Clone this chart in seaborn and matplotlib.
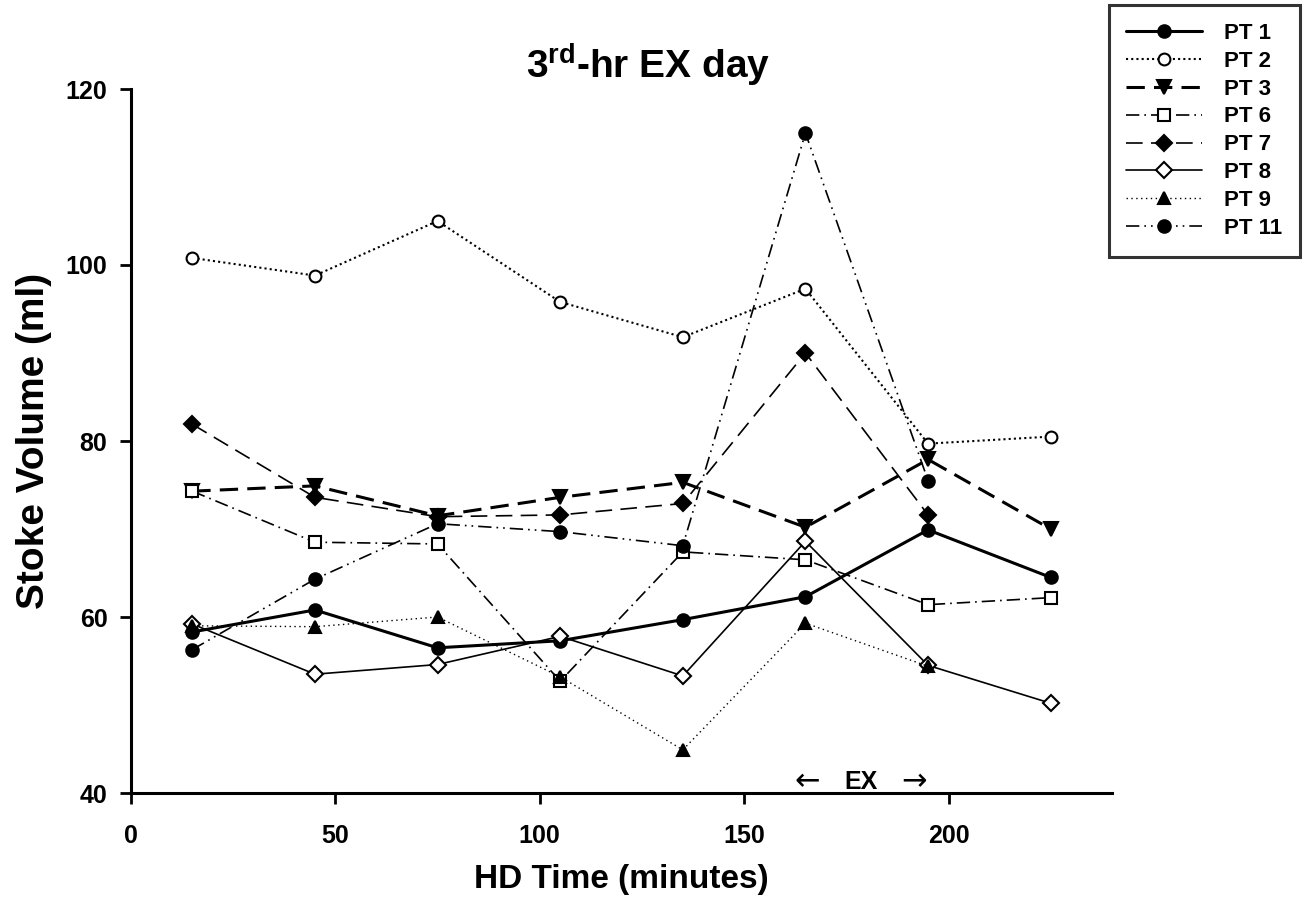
import matplotlib
matplotlib.use("Agg")
import matplotlib.pyplot as plt
import seaborn as sns
import numpy as np

sns.set_theme(style="ticks")
plt.rcParams['font.family'] = ['Liberation Sans', 'DejaVu Sans']
for k in ['text.color', 'axes.labelcolor', 'xtick.color', 'ytick.color', 'axes.edgecolor']:
    plt.rcParams[k] = 'black'

time = [15, 45, 75, 105, 135, 165, 195, 225]
pt1 = [58.3, 60.8, 56.5, 57.3, 59.7, 62.3, 69.9, 64.5]
pt2 = [100.8, 98.8, 105.0, 95.8, 91.8, 97.3, 79.7, 80.5]
pt3 = [74.3, 74.9, 71.5, 73.6, 75.3, 70.2, 77.9, 70.0]
pt6 = [74.3, 68.5, 68.3, 52.7, 67.4, 66.5, 61.4, 62.2]
pt7 = [81.9, 73.6, 71.4, 71.6, 72.9, 90.0, 71.6]
pt8 = [59.2, 53.5, 54.6, 57.8, 53.3, 68.6, 54.5, 50.2]
pt9 = [59.0, 58.9, 60.0, 53.2, 44.9, 59.3, 54.4]
pt11 = [56.3, 64.3, 70.6, 69.7, 68.1, 115.0, 75.5]

series_names = ["PT 1", "PT 2", "PT 3", "PT 6", "PT 7", "PT 8", "PT 9", "PT 11"]
series_vals = [pt1, pt2, pt3, pt6, pt7, pt8, pt9, pt11]

styles = [
    dict(linestyle='-', lw=2.2, marker='o', mfc='black', ms=9),
    dict(linestyle=(0, (1, 1.5)), lw=1.5, marker='o', mfc='white', ms=8.5),
    dict(linestyle=(0, (6, 3)), lw=2.2, marker='v', mfc='black', ms=10),
    dict(linestyle=(0, (8, 3, 1, 3)), lw=1.2, marker='s', mfc='white', ms=8.5),
    dict(linestyle=(0, (10, 5)), lw=1.2, marker='D', mfc='black', ms=8),
    dict(linestyle='-', lw=1.2, marker='D', mfc='white', ms=8),
    dict(linestyle=(0, (1, 2.5)), lw=1.0, marker='^', mfc='black', ms=9),
    dict(linestyle=(0, (8, 3, 1, 3, 1, 3)), lw=1.2, marker='o', mfc='black', ms=9),
]

fig = plt.figure(figsize=(13.06, 9.05), dpi=100)
ax = fig.add_axes([131/1306, 1-793/905, (1112-131)/1306, (793-89)/905])

for name, vals, st in zip(series_names, series_vals, styles):
    sns.lineplot(x=time[:len(vals)], y=vals, ax=ax, color='black',
                 linestyle=st['linestyle'], linewidth=st['lw'],
                 marker=st['marker'], markerfacecolor=st['mfc'],
                 markeredgecolor='black', markeredgewidth=1.5,
                 markersize=st['ms'], label=name)

ax.set_xlim(0, 240)
ax.set_ylim(40, 120)
ax.set_xticks([0, 50, 100, 150, 200])
ax.set_yticks([40, 60, 80, 100, 120])
for s in ['top', 'right']:
    ax.spines[s].set_visible(False)
for s in ['left', 'bottom']:
    ax.spines[s].set_linewidth(2.2)
    ax.spines[s].set_color('black')
ax.tick_params(direction='out', length=8, width=2, colors='black', labelsize=18)
ax.tick_params(axis='x', pad=14)
ax.tick_params(axis='y', pad=9)
for lab in ax.get_xticklabels() + ax.get_yticklabels():
    lab.set_fontweight('bold')

ax.set_xlabel("HD Time (minutes)", fontsize=24, fontweight='bold', labelpad=12)
ax.set_ylabel("Stoke Volume (ml)", fontsize=28, fontweight='bold', labelpad=10)
ax.set_title(r"3$^{\mathregular{rd}}$-hr EX day", fontsize=28, fontweight='bold', pad=5,
             x=(648-131)/981)

ax.text(165.4, 41.3, "\u2190", ha='center', va='center', fontsize=22, family=['DejaVu Sans'])
ax.text(178.6, 41.3, "EX", ha='center', va='center', fontsize=18, fontweight='bold',
        family=['Liberation Sans', 'DejaVu Sans'])
ax.text(191.6, 41.3, "\u2192", ha='center', va='center', fontsize=22, family=['DejaVu Sans'])

leg = ax.legend(loc='upper right', bbox_to_anchor=(1300/1306, 1-5/905),
                bbox_transform=fig.transFigure, borderaxespad=0, frameon=True, fancybox=False,
                edgecolor='black', fontsize=16, handlelength=3.4, labelspacing=0.31,
                borderpad=0.8, handletextpad=1.0)
leg.get_frame().set_linewidth(2.2)
for t in leg.get_texts():
    t.set_fontweight('bold')

fig.savefig("out.png", dpi=100, facecolor='white')
